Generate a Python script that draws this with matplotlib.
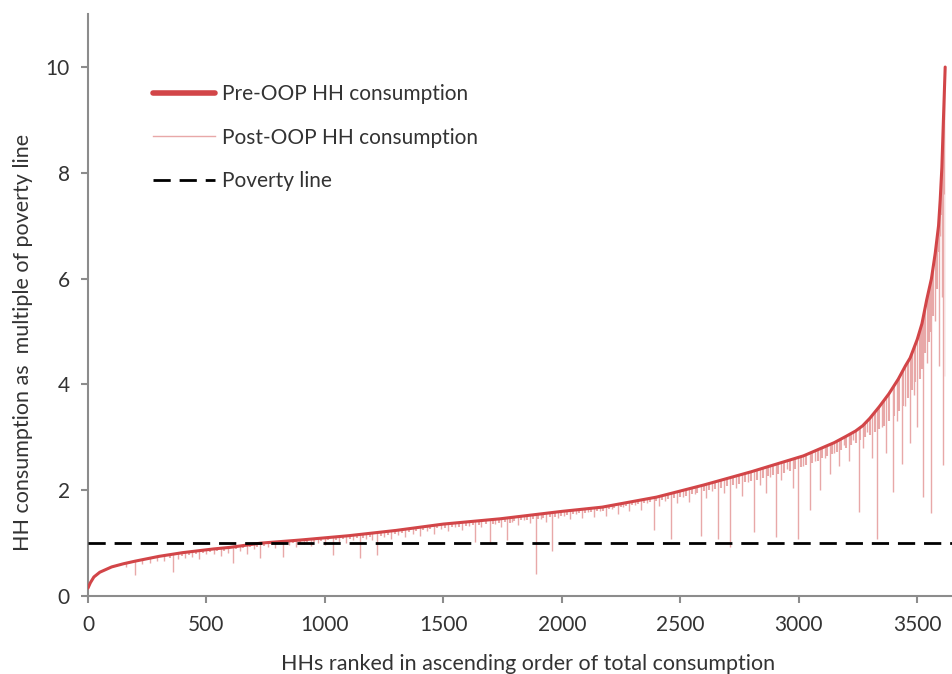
import numpy as np
import matplotlib.pyplot as plt
from matplotlib.patches import Polygon

# Pre-OOP consumption curve (multiples of poverty line)
pre_rank = [0, 10, 25, 50, 100, 150, 200, 300, 400, 530, 600, 730, 900, 1100,
            1300, 1500, 1740, 2000, 2170, 2400, 2600, 2800, 3020, 3150, 3200,
            3240, 3270, 3300, 3340, 3380, 3420, 3450, 3470, 3500, 3520, 3540,
            3560, 3576, 3590, 3597, 3604, 3611, 3618]
pre_value = [0.15, 0.25, 0.36, 0.45, 0.55, 0.61, 0.66, 0.75, 0.82, 0.89, 0.92,
             1.00, 1.06, 1.14, 1.24, 1.36, 1.46, 1.60, 1.68, 1.87, 2.10, 2.35,
             2.65, 2.90, 3.02, 3.12, 3.22, 3.36, 3.58, 3.82, 4.10, 4.35, 4.50,
             4.85, 5.15, 5.60, 6.00, 6.48, 7.00, 7.49, 8.10, 9.06, 10.00]

# Post-OOP: households with large OOP spending (rank, post-OOP consumption)
dip_rank = [160, 198, 230, 260, 290, 320, 357, 380, 410, 440, 470, 500, 530,
            560, 590, 613, 640, 670, 700, 726, 760, 790, 824, 850, 880, 910,
            940, 970, 1000, 1035, 1060, 1090, 1120, 1148, 1175, 1200, 1219,
            1250, 1280, 1310, 1340, 1370, 1400, 1430, 1460, 1490, 1520, 1550,
            1580, 1610, 1634, 1660, 1697, 1720, 1745, 1767, 1790, 1815, 1840,
            1865, 1889, 1910, 1935, 1959, 1985, 2010, 2035, 2060, 2085, 2110,
            2135, 2160, 2185, 2210, 2235, 2260, 2285, 2310, 2335, 2360, 2389,
            2410, 2435, 2460, 2485, 2510, 2535, 2560, 2588, 2610, 2635, 2659,
            2685, 2710, 2735, 2760, 2785, 2810, 2835, 2860, 2880, 2903, 2925,
            2950, 2975, 2996, 3020, 3046, 3070, 3089, 3110, 3130, 3150, 3170,
            3190, 3210, 3230, 3253, 3270, 3290, 3310, 3331, 3350, 3370, 3396,
            3415, 3435, 3450, 3470, 3485, 3500, 3525, 3540, 3560, 3575, 3590,
            3598, 3604, 3609, 3614, 3618]
dip_value = [0.55, 0.40, 0.60, 0.62, 0.66, 0.67, 0.46, 0.70, 0.72, 0.74, 0.70,
             0.79, 0.80, 0.76, 0.82, 0.62, 0.85, 0.80, 0.88, 0.72, 0.92, 0.90,
             0.74, 0.96, 0.93, 0.98, 0.95, 1.00, 0.97, 0.78, 1.03, 1.00, 1.06,
             0.72, 1.08, 1.05, 0.78, 1.12, 1.08, 1.15, 1.12, 1.18, 1.14, 1.22,
             1.18, 1.26, 1.22, 1.30, 1.25, 1.33, 1.03, 1.30, 1.03, 1.36, 1.30,
             1.06, 1.40, 1.35, 1.44, 1.38, 0.41, 1.46, 1.40, 0.85, 1.48, 1.52,
             1.45, 1.55, 1.48, 1.58, 1.50, 1.60, 1.52, 1.64, 1.55, 1.68, 1.60,
             1.72, 1.62, 1.75, 1.24, 1.70, 1.80, 1.08, 1.75, 1.88, 1.78, 1.92,
             1.14, 1.85, 1.98, 1.08, 1.95, 0.92, 2.05, 1.90, 2.15, 1.21, 2.10,
             1.95, 2.25, 1.12, 2.20, 2.40, 2.05, 1.08, 2.45, 1.63, 2.55, 2.00,
             2.60, 2.30, 2.70, 2.45, 2.85, 2.55, 2.95, 1.59, 2.80, 3.10, 2.60,
             1.08, 3.20, 2.70, 1.97, 3.30, 2.50, 3.60, 2.90, 3.80, 3.20, 1.88,
             4.40, 1.56, 5.20, 4.35, 6.80, 5.66, 2.48, 7.60, 4.15]

# Post-OOP: households with small OOP spending (the dense band under the curve)
small_rank = [345, 395, 425, 455, 485, 515, 545, 575, 625, 655, 685, 715, 745,
              775, 805, 835, 865, 895, 925, 955, 985, 1015, 1045, 1075, 1105,
              1135, 1160, 1190, 1235, 1265, 1295, 1325, 1355, 1385, 1415, 1445,
              1475, 1505, 1535, 1565, 1595, 1625, 1650, 1680, 1710, 1735, 1760,
              1780, 1800, 1828, 1852, 1878, 1898, 1922, 1948, 1972, 1998, 2022,
              2048, 2072, 2098, 2122, 2148, 2172, 2198, 2222, 2248, 2272, 2298,
              2322, 2348, 2372, 2398, 2422, 2448, 2472, 2498, 2522, 2548, 2572,
              2598, 2622, 2648, 2672, 2698, 2722, 2748, 2772, 2798, 2822, 2848,
              2870, 2892, 2914, 2938, 2962, 2985, 3008, 3032, 3058, 3080, 3100,
              3120, 3140, 3160, 3180, 3200, 3220, 3240, 3260, 3280, 3300, 3320,
              3340, 3360, 3380, 3400, 3425, 3442, 3460, 3478, 3492, 3510, 3520,
              3532, 3548, 3555, 3568, 3582, 3594, 3601, 3607, 3612, 3616]
small_value = [0.72, 0.76, 0.78, 0.80, 0.82, 0.84, 0.85, 0.86, 0.88, 0.90,
               0.92, 0.93, 0.95, 0.97, 0.98, 0.99, 1.00, 1.01, 1.02, 1.03,
               1.04, 1.05, 1.06, 1.07, 1.08, 1.09, 1.10, 1.11, 1.13, 1.15,
               1.17, 1.19, 1.21, 1.23, 1.24, 1.26, 1.28, 1.29, 1.30, 1.31,
               1.32, 1.34, 1.35, 1.36, 1.37, 1.38, 1.39, 1.38, 1.42, 1.43,
               1.44, 1.46, 1.45, 1.48, 1.49, 1.50, 1.52, 1.53, 1.55, 1.56,
               1.57, 1.59, 1.60, 1.61, 1.64, 1.66, 1.68, 1.70, 1.72, 1.74,
               1.76, 1.78, 1.80, 1.82, 1.84, 1.86, 1.88, 1.90, 1.92, 1.95,
               1.98, 2.00, 2.02, 2.05, 2.08, 2.10, 2.12, 2.15, 2.18, 2.20,
               2.23, 2.26, 2.28, 2.30, 2.33, 2.36, 2.40, 2.43, 2.48, 2.52,
               2.56, 2.60, 2.64, 2.68, 2.72, 2.76, 2.80, 2.85, 2.90, 2.95,
               3.00, 3.05, 3.10, 3.15, 3.22, 3.30, 3.40, 3.50, 3.60, 3.75,
               3.90, 4.05, 4.10, 4.30, 4.60, 4.80, 5.00, 5.30, 5.80, 6.50,
               7.20, 7.80, 8.40, 9.00]

poverty_line = 1.0
x_ticks = [0, 500, 1000, 1500, 2000, 2500, 3000, 3500]
y_ticks = [0, 2, 4, 6, 8, 10]

plt.rcParams['font.family'] = ['Lato', 'DejaVu Sans']

fig = plt.figure(figsize=(9.53, 6.74), dpi=100)
ax = fig.add_axes([0.0923, 0.1157, 0.9077, 0.8633])

red = '#d24548'
pink = '#e8a8a8'
grey = '#8c8c8c'
text_col = '#333333'

# post-OOP spikes, clipped to the area under the pre-OOP curve
area = Polygon(np.column_stack([[pre_rank[0]] + pre_rank + [pre_rank[-1]],
                                [0] + pre_value + [0]]),
               closed=True, transform=ax.transData)
for ranks, vals, w in [(small_rank, small_value, 1.5), (dip_rank, dip_value, 1.0)]:
    spikes = ax.vlines(ranks, vals, 11, color=pink, lw=w, zorder=2)
    spikes.set_clip_path(area)

ax.plot(pre_rank, pre_value, color=pink, lw=1.0, zorder=2,
        label='Post-OOP HH consumption')
ax.plot(pre_rank, pre_value, color=red, lw=2.2, zorder=3,
        solid_capstyle='round', label='Pre-OOP HH consumption')
ax.axhline(poverty_line, color='black', lw=2.0, dashes=(6.2, 3.2), zorder=4,
           label='Poverty line')

ax.set_xlim(0, 3651)
ax.set_ylim(0, 11)
ax.set_xticks(x_ticks)
ax.set_yticks(y_ticks)

for side in ['top', 'right']:
    ax.spines[side].set_visible(False)
for side in ['left', 'bottom']:
    ax.spines[side].set_color(grey)
    ax.spines[side].set_linewidth(1.5)
ax.tick_params(colors=grey, width=1.5, length=5, labelsize=15,
               labelcolor=text_col)
ax.tick_params(axis='x', pad=9)
ax.tick_params(axis='y', pad=8)

ax.set_xlabel('HHs ranked in ascending order of total consumption',
              fontsize=15.5, color=text_col)
ax.xaxis.set_label_coords(0.509, -0.1)
ax.set_ylabel('HH consumption as  multiple of poverty line',
              fontsize=15.5, color=text_col)
ax.yaxis.set_label_coords(-0.063, 0.435)

handles, labels = ax.get_legend_handles_labels()
order = [1, 0, 2]
leg = ax.legend([handles[i] for i in order], [labels[i] for i in order],
                loc='upper left', bbox_to_anchor=(0.075, 0.880),
                frameon=False, fontsize=15, handlelength=3.0,
                handletextpad=0.3, labelspacing=1.14, borderpad=0,
                borderaxespad=0)
leg.get_lines()[0].set_linewidth(4)
for t in leg.get_texts():
    t.set_color(text_col)

fig.savefig('out.png', dpi=100)
